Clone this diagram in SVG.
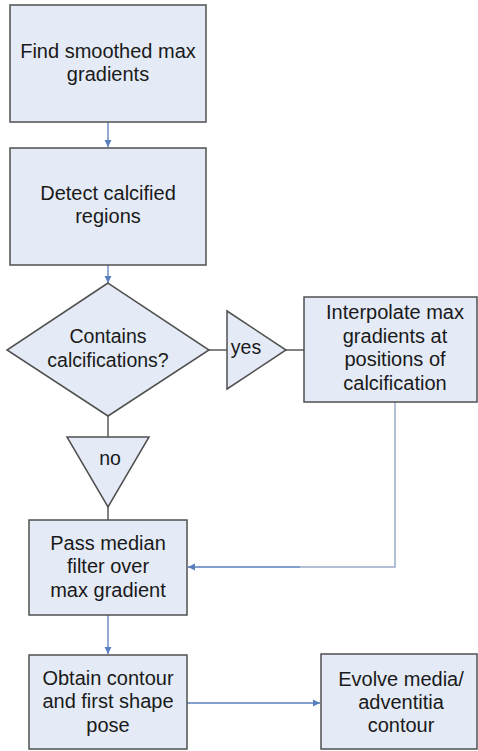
<svg xmlns="http://www.w3.org/2000/svg" width="478" height="751" viewBox="0 0 478 751">
<style>
.node{fill:#e4ebf6;stroke:#505050;stroke-width:1.5}
.t{font-family:"Liberation Sans",Arial,sans-serif;font-size:20px;fill:#1a1a1a;text-anchor:middle}
.d{font-size:19.5px}
.c{fill:none;stroke:#5a7fbf;stroke-width:1.3}
.k{fill:none;stroke:#404040;stroke-width:1.3}
.g{fill:none;stroke:#9aabc6;stroke-width:1.5}
</style>
<defs>
<marker id="ah" markerWidth="8" markerHeight="8" refX="7" refY="4" orient="auto" markerUnits="userSpaceOnUse">
<path d="M0,0.5 L7,4 L0,7.5 Z" fill="#5a7fbf"/>
</marker>
</defs>
<rect width="478" height="751" fill="#ffffff"/>
<g id="connectors">
<line class="c" x1="108" y1="122" x2="108" y2="147" marker-end="url(#ah)"/>
<line class="c" x1="108" y1="265" x2="108" y2="283" marker-end="url(#ah)"/>
<line class="k" x1="209" y1="350" x2="227" y2="350"/>
<line class="k" x1="286" y1="350" x2="304" y2="350"/>
<line class="k" x1="108" y1="416" x2="108" y2="437"/>
<line class="k" x1="108" y1="507" x2="108" y2="520"/>
<polyline class="g" points="395,402 395,567 300,567"/>
<line class="c" x1="300" y1="567" x2="188" y2="567" marker-end="url(#ah)"/>
<line class="c" x1="108" y1="615" x2="108" y2="654" marker-end="url(#ah)"/>
<line class="c" x1="187" y1="703" x2="320" y2="703" marker-end="url(#ah)"/>
</g>
<g id="n1"><rect class="node" x="10" y="5" width="196" height="117"/>
<text class="t" x="108" y="58">Find smoothed max</text><text class="t" x="108" y="81">gradients</text></g>
<g id="n2"><rect class="node" x="10" y="148" width="196" height="117"/>
<text class="t" x="108" y="200">Detect calcified</text><text class="t" x="108" y="223">regions</text></g>
<g id="n3"><polygon class="node" points="108,283 209,350 108,416 7,350"/>
<text class="t d" x="108" y="343">Contains</text><text class="t d" x="108" y="367">calcifications?</text></g>
<g id="yes"><polygon class="node" points="227,311 286,350 227,389"/>
<text class="t d" x="246" y="354">yes</text></g>
<g id="no"><polygon class="node" points="67,437 149,437 108,507"/>
<text class="t d" x="110" y="465">no</text></g>
<g id="n4"><rect class="node" x="304" y="297" width="173" height="105"/>
<text class="t" x="395" y="319">Interpolate max</text><text class="t" x="395" y="343">gradients at</text><text class="t" x="395" y="366">positions of</text><text class="t" x="395" y="390">calcification</text></g>
<g id="n5"><rect class="node" x="29" y="520" width="158" height="95"/>
<text class="t" x="108" y="550">Pass median</text><text class="t" x="108" y="573">filter over</text><text class="t" x="108" y="597">max gradient</text></g>
<g id="n6"><rect class="node" x="29" y="655" width="158" height="94"/>
<text class="t" x="108" y="685">Obtain contour</text><text class="t" x="108" y="708">and first shape</text><text class="t" x="108" y="732">pose</text></g>
<g id="n7"><rect class="node" x="321" y="654" width="156" height="95"/>
<text class="t" x="401" y="686">Evolve media/</text><text class="t" x="401" y="709">adventitia</text><text class="t" x="401" y="732">contour</text></g>
</svg>
